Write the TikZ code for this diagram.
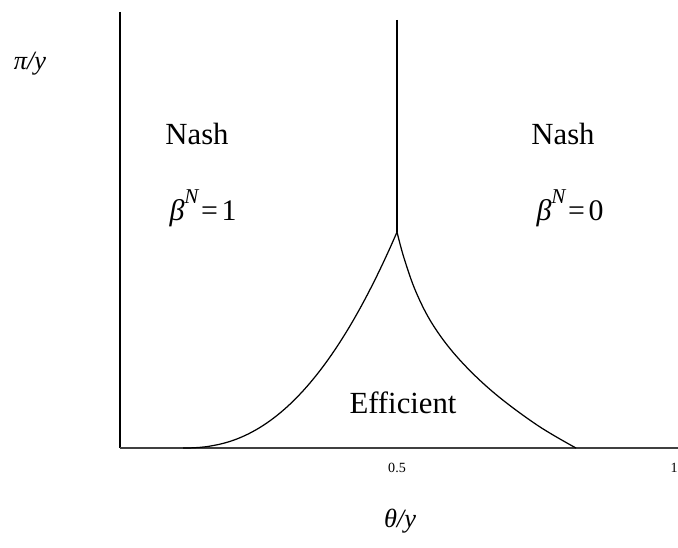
\documentclass[tikz,border=0pt]{standalone}
\usepackage{fontspec}
\setmainfont{Liberation Serif}
\usepackage{tikz}
\usetikzlibrary{positioning, calc}

\begin{document}
\begin{tikzpicture}[
    x=0.02cm, y=-0.02cm,
    axis_line/.style={line width=0.8pt, draw=black},
    base_line/.style={line width=1pt, draw=black!75},
    region_curve/.style={line width=0.7pt, draw=black},
    region_label/.style={
        anchor=base,
        inner sep=0pt,
        font=\fontsize{17.5}{20}\selectfont
    },
    beta_label/.style={
        region_label,
        font=\fontsize{17}{20}\selectfont
    },
    tick_label/.style={
        anchor=base,
        inner sep=0pt,
        font=\fontsize{8}{10}\selectfont
    },
    axis_title/.style={
        anchor=base,
        inner sep=0pt,
        font=\fontsize{15}{18}\selectfont\itshape
    }
]
    \useasboundingbox (0,0) rectangle (678,547);

    % Axes and boundaries
    \coordinate (origin) at (120,448);
    \coordinate (ytop) at (120,12);
    \coordinate (xend) at (678,448);
    \coordinate (cusp) at (397,232);
    \coordinate (midtop) at (397,20);

    \draw[axis_line] (ytop) -- (origin);
    \draw[base_line] (origin) -- (xend);
    \draw[axis_line] (midtop) -- (cusp);

    % Efficient region
    \draw[region_curve] plot[domain=183:397, samples=60]
        (\x, {448 - 216*((\x-183)/214)^2.3});
    \draw[region_curve] plot[smooth, tension=0.6] coordinates {
        (cusp) (404,258) (416,292) (433,325) (458,358) (493,392) (537,425) (576,448)};

    % Region labels
    \node[region_label] (nashL) at (197,145) {Nash};
    \node[beta_label] (betaL) at (203,220)
        {\textit{β}\raisebox{0.55em}{\fontsize{12}{12}\selectfont\textit{N}}\kern1pt=\kern2pt1};
    \node[region_label] (nashR) at (563,145) {Nash};
    \node[beta_label] (betaR) at (570,220)
        {\textit{β}\raisebox{0.55em}{\fontsize{12}{12}\selectfont\textit{N}}\kern1pt=\kern2pt0};
    \node[region_label] (eff) at (403,413) {Efficient};

    % Ticks and axis titles
    \node[tick_label] (half) at (397,472) {0.5};
    \node[tick_label] (one) at (674,472) {1};
    \node[axis_title] (ylab) at (30,70) {π/y};
    \node[axis_title] (xlab) at (400,527) {θ/y};
\end{tikzpicture}
\end{document}
